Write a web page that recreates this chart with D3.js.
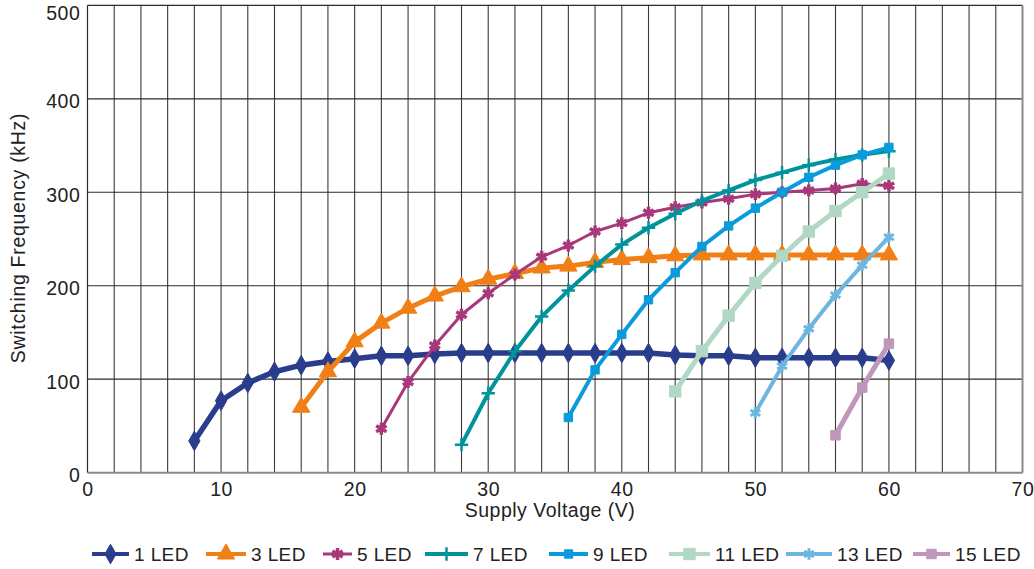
<!DOCTYPE html>
<html lang="en">
<head>
  <meta charset="UTF-8">
  <title>Switching Frequency vs Supply Voltage</title>
  <style>
    body { margin: 0; background: #fff; }
    text { font-family: "Liberation Sans", Arial, sans-serif; fill: #222; }
  </style>
</head>
<body>
  <svg width="1034" height="569"></svg>
  <script src="https://cdn.jsdelivr.net/npm/d3@7"></script>
  <script>
    // data
    var led1V = [8, 10, 12, 14, 16, 18, 20, 22, 24, 26, 28, 30, 32, 34, 36, 38, 40, 42, 44, 46, 48, 50, 52, 54, 56, 58, 60]
    var led1F = [34, 77, 96, 108, 115, 119, 122, 125, 125, 127, 128, 128, 128, 128, 128, 128, 128, 128, 126, 125, 125, 123, 123, 123, 123, 123, 120]
    var led3V = [16, 18, 20, 22, 24, 26, 28, 30, 32, 34, 36, 38, 40, 42, 44, 46, 48, 50, 52, 54, 56, 58, 60]
    var led3F = [70, 108, 140, 160, 176, 189, 199, 207, 213, 219, 221, 225, 228, 230, 232, 233, 233, 233, 233, 233, 233, 233, 233]
    var led5V = [22, 24, 26, 28, 30, 32, 34, 36, 38, 40, 42, 44, 46, 48, 50, 52, 54, 56, 58, 60]
    var led5F = [47, 97, 136, 169, 192, 212, 231, 243, 258, 267, 278, 284, 289, 293, 298, 300, 302, 304, 309, 307]
    var led7V = [28, 30, 32, 34, 36, 38, 40, 42, 44, 46, 48, 50, 52, 54, 56, 58, 60]
    var led7F = [30, 85, 130, 167, 195, 221, 244, 262, 277, 291, 302, 313, 321, 329, 335, 340, 344]
    var led9V = [36, 38, 40, 42, 44, 46, 48, 50, 52, 54, 56, 58, 60]
    var led9F = [59, 110, 148, 185, 214, 242, 264, 283, 300, 316, 329, 340, 348]
    var led11V = [44, 46, 48, 50, 52, 54, 56, 58, 60]
    var led11F = [87, 130, 168, 203, 232, 258, 280, 300, 320]
    var led13V = [50, 52, 54, 56, 58, 60]
    var led13F = [64, 114, 154, 190, 222, 252]
    var led15V = [56, 58, 60]
    var led15F = [40, 91, 138]

    var seriesNames = ['1 LED', '3 LED', '5 LED', '7 LED', '9 LED', '11 LED', '13 LED', '15 LED']
    var xTicks = [0, 10, 20, 30, 40, 50, 60, 70]
    var yTicks = [0, 100, 200, 300, 400, 500]

    // styling per series
    var styles = [
      { color: '#2a3c8c', width: 5.5, symbol: d3.symbolDiamond, size: 110, fill: true },
      { color: '#f07f16', width: 5, symbol: d3.symbolTriangle, size: 130, fill: true },
      { color: '#a8387a', width: 3, symbol: d3.symbolAsterisk, size: 100, fill: false, sw: 3.5 },
      { color: '#00939b', width: 4, symbol: d3.symbolPlus, size: 60, fill: false, sw: 2.5 },
      { color: '#0a9bdc', width: 4, symbol: d3.symbolSquare, size: 70, fill: true },
      { color: '#b0d8c4', width: 5, symbol: d3.symbolSquare, size: 130, fill: true },
      { color: '#6db6e0', width: 4, symbol: d3.symbolAsterisk, size: 90, fill: false, sw: 3 },
      { color: '#c096ba', width: 5, symbol: d3.symbolSquare, size: 90, fill: true }
    ]

    var data = [
      [led1V, led1F], [led3V, led3F], [led5V, led5F], [led7V, led7F],
      [led9V, led9F], [led11V, led11F], [led13V, led13F], [led15V, led15F]
    ].map(function(s, i) {
      return {
        name: seriesNames[i],
        style: styles[i],
        points: s[0].map(function(v, j) { return { v: v, f: s[1][j] } })
      }
    })

    var svg = d3.select('svg')
    var x = d3.scaleLinear().domain([0, 70]).range([87.5, 1022.5])
    var y = d3.scaleLinear().domain([0, 500]).range([472.7, 5.3])

    // vertical grid every 2 V
    var vGrid = d3.range(2, 70, 2)
    svg.append('g')
      .selectAll('line')
      .data(vGrid)
      .enter()
      .append('line')
      .attr('x1', function(d) { return x(d) })
      .attr('x2', function(d) { return x(d) })
      .attr('y1', y(500))
      .attr('y2', y(0))
      .attr('stroke', '#3a3a3a')
      .attr('stroke-width', 1.1)

    // horizontal grid
    svg.append('g')
      .selectAll('line')
      .data(yTicks.filter(function(d) { return d > 0 }))
      .enter()
      .append('line')
      .attr('x1', x(0))
      .attr('x2', x(70))
      .attr('y1', function(d) { return y(d) })
      .attr('y2', function(d) { return y(d) })
      .attr('stroke', '#2a2a2a')
      .attr('stroke-width', 1.2)

    // frame: left dark, right and bottom gray
    svg.append('line')
      .attr('x1', x(0)).attr('x2', x(0))
      .attr('y1', y(500)).attr('y2', y(0))
      .attr('stroke', '#2a2a2a').attr('stroke-width', 1.2)
    svg.append('line')
      .attr('x1', x(70)).attr('x2', x(70))
      .attr('y1', y(500)).attr('y2', y(0))
      .attr('stroke', '#8a8a8a').attr('stroke-width', 2)
    svg.append('line')
      .attr('x1', x(0)).attr('x2', x(70))
      .attr('y1', y(0)).attr('y2', y(0))
      .attr('stroke', '#8a8a8a').attr('stroke-width', 2)

    // axes (labels only)
    var xAxis = svg.append('g')
      .attr('transform', 'translate(0,' + y(0) + ')')
      .call(d3.axisBottom(x).tickValues(xTicks).tickSize(0).tickPadding(9))
    var yAxis = svg.append('g')
      .attr('transform', 'translate(' + x(0) + ',0)')
      .call(d3.axisLeft(y).tickValues(yTicks).tickSize(0).tickPadding(7))
    ;[xAxis, yAxis].forEach(function(a) {
      a.select('.domain').remove()
      a.selectAll('text')
        .attr('font-family', '"Liberation Sans", Arial, sans-serif')
        .attr('font-size', 19.5)
        .attr('letter-spacing', 0.6)
        .attr('fill', '#222')
    })
    yAxis.selectAll('text')
      .attr('dy', function(d) { return d === 500 ? '0.72em' : '0.46em' })
    xAxis.selectAll('text').attr('dy', '0.72em')

    svg.append('text')
      .attr('x', 550)
      .attr('y', 517)
      .attr('text-anchor', 'middle')
      .attr('font-size', 19.5)
      .attr('letter-spacing', 0.5)
      .text('Supply Voltage (V)')

    svg.append('text')
      .attr('transform', 'translate(25,238) rotate(-90)')
      .attr('text-anchor', 'middle')
      .attr('font-size', 19.5)
      .attr('letter-spacing', 0.7)
      .text('Switching Frequency (kHz)')

    var line = d3.line()
      .x(function(d) { return x(d.v) })
      .y(function(d) { return y(d.f) })

    function drawSymbol(sel, st) {
      sel.attr('d', d3.symbol().type(st.symbol).size(st.size))
        .attr('fill', st.fill ? st.color : 'none')
        .attr('stroke', st.color)
        .attr('stroke-width', st.fill ? 1 : st.sw)
    }

    var series = svg.append('g')
      .selectAll('g')
      .data(data)
      .enter()
      .append('g')

    series.append('path')
      .attr('d', function(d) { return line(d.points) })
      .attr('fill', 'none')
      .attr('stroke', function(d) { return d.style.color })
      .attr('stroke-width', function(d) { return d.style.width })
      .attr('stroke-linejoin', 'round')

    series.each(function(s) {
      d3.select(this).selectAll('.mark')
        .data(s.points)
        .enter()
        .append('path')
        .attr('class', 'mark')
        .attr('transform', function(d) { return 'translate(' + x(d.v) + ',' + y(d.f) + ')' })
        .call(drawSymbol, s.style)
    })

    // legend
    var legendX = [92, 206, 323, 425, 549, 669, 786, 913]
    var legendLen = [37, 40, 29, 43, 39, 41, 46, 37]
    var legend = svg.append('g')
      .selectAll('g')
      .data(data)
      .enter()
      .append('g')
      .attr('transform', function(d, i) { return 'translate(' + legendX[i] + ',554)' })

    legend.append('line')
      .attr('x1', 0)
      .attr('x2', function(d, i) { return legendLen[i] })
      .attr('stroke', function(d) { return d.style.color })
      .attr('stroke-width', function(d) { return Math.min(d.style.width, 4) })
    legend.append('path')
      .attr('transform', function(d, i) { return 'translate(' + legendLen[i] / 2 + ',0)' })
      .each(function(d) { d3.select(this).call(drawSymbol, d.style) })
    legend.append('text')
      .attr('x', function(d, i) { return legendLen[i] + 5 })
      .attr('dy', '0.36em')
      .attr('font-size', 19)
      .attr('letter-spacing', 0.4)
      .text(function(d) { return d.name })
  </script>
</body>
</html>
